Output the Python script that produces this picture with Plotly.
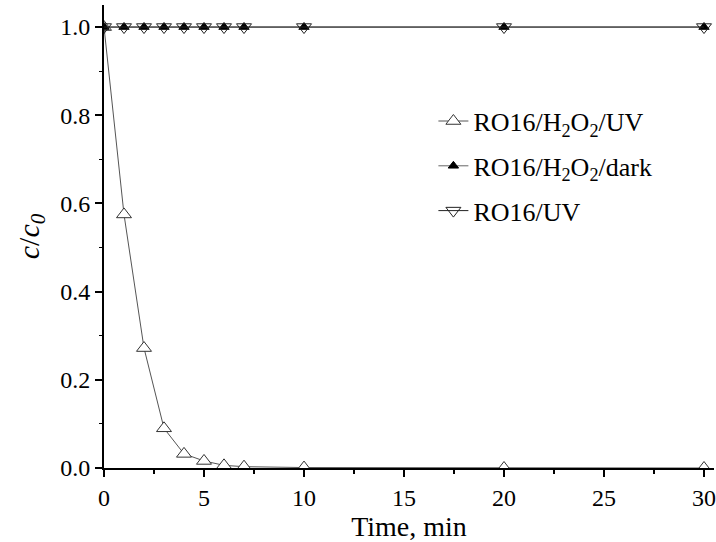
import plotly.graph_objects as go

time = [0, 1, 2, 3, 4, 5, 6, 7, 10, 20, 30]
uv_h2o2 = [1.0, 0.575, 0.272, 0.09, 0.032, 0.016, 0.006, 0.003, 0.001, 0.0, 0.0]
dark_h2o2 = [1.0, 1.0, 1.0, 1.0, 1.0, 1.0, 1.0, 1.0, 1.0, 1.0, 1.0]
uv_only = [1.0, 1.0, 1.0, 1.0, 1.0, 1.0, 1.0, 1.0, 1.0, 1.0, 1.0]

names = ["RO16/H<sub>2</sub>O<sub>2</sub>/UV", "RO16/H<sub>2</sub>O<sub>2</sub>/dark", "RO16/UV"]
x_ticks = [0, 5, 10, 15, 20, 25, 30]
y_ticks = [0, 0.2, 0.4, 0.6, 0.8, 1.0]
y_tick_text = ["0.0", "0.2", "0.4", "0.6", "0.8", "1.0"]

fig = go.Figure()
fig.add_trace(go.Scatter(x=time, y=uv_h2o2, name=names[0], mode="lines+markers", legendgroup="a",
                         line=dict(color="#555555", width=1),
                         marker=dict(symbol="triangle-up", size=13, color="white",
                                     line=dict(color="#333333", width=1))))
fig.add_trace(go.Scatter(x=time, y=dark_h2o2, name=names[1], mode="lines+markers", legendgroup="b",
                         line=dict(color="#666666", width=1),
                         marker=dict(symbol="triangle-up", size=9, color="black",
                                     line=dict(color="black", width=1))))
fig.add_trace(go.Scatter(x=time, y=uv_only, name=names[2], mode="lines+markers", legendgroup="c",
                         line=dict(color="#222222", width=1),
                         marker=dict(symbol="triangle-down", size=13, color="rgba(255,255,255,0)",
                                     line=dict(color="#222222", width=1))))

font = "Liberation Serif"
fig.update_layout(
    width=716, height=542,
    margin=dict(l=104, r=0, t=5, b=74),
    paper_bgcolor="white", plot_bgcolor="white",
    font=dict(family=font, color="black", size=22),
    showlegend=True,
    legend=dict(x=0.54, y=0.80, xanchor="left", yanchor="top",
                font=dict(size=26, family=font), bgcolor="rgba(0,0,0,0)",
                tracegroupgap=8),
    xaxis=dict(range=[0, 30.5], tickvals=x_ticks, ticklabeloverflow="allow",
               showgrid=False, zeroline=False, showline=True, linecolor="black", linewidth=2,
               ticks="outside", ticklen=7, tickwidth=2, tickcolor="black",
               minor=dict(tickvals=[2.5, 7.5, 12.5, 17.5, 22.5, 27.5], ticks="outside", ticklen=4, tickwidth=2, tickcolor="black"),
               tickfont=dict(size=24),
               title=dict(text="Time, min", font=dict(size=28), standoff=12)),
    yaxis=dict(range=[0, 1.05], tickvals=y_ticks, ticktext=y_tick_text,
               showgrid=False, zeroline=False, showline=True, linecolor="black", linewidth=2,
               ticks="outside", ticklen=7, tickwidth=2, tickcolor="black",
               minor=dict(tickvals=[0.1, 0.3, 0.5, 0.7, 0.9], ticks="outside", ticklen=3, tickwidth=1, tickcolor="black"),
               tickfont=dict(size=24),
               title=dict(text="<i>c</i>/<i>c</i><sub><i>0</i></sub>", font=dict(size=30), standoff=12)),
)
fig.write_html("out.html", config={"displayModeBar": False},
               post_script="document.body.style.margin='0';")
